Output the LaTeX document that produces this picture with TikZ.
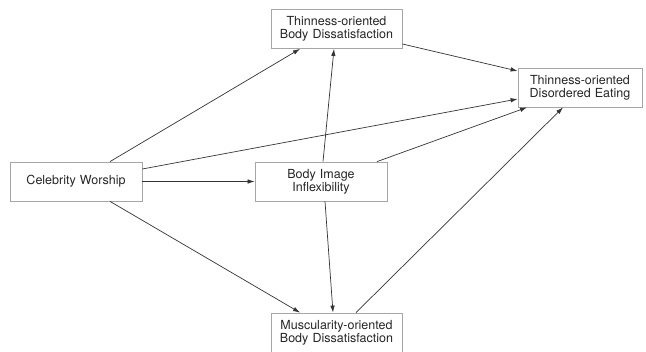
\documentclass[tikz,border=0pt]{standalone}
\usepackage{fontspec}
\setmainfont{TeX Gyre Heros}
\usetikzlibrary{arrows.meta}

\begin{document}
\begin{tikzpicture}[x=1pt, y=-1pt,
	box/.style={draw=black!35, line width=0.8pt, fill=white, inner sep=0pt, align=center,
		text=black!85, text width=#1, minimum height=39pt, font=\fontsize{12.5}{13}\selectfont},
	box/.default=131pt,
	arr/.style={draw=black!80, line width=0.7pt, -{Latex[length=7pt,width=4.5pt]}}]
				\useasboundingbox (0,0) rectangle (646,352);
				\node[box=132pt] (CW) at (76,181.5) {Celebrity Worship};
				\node[box] (TBD) at (336.5,29) {Thinness-oriented\\Body Dissatisfaction};
				\node[box=124pt] (TDE) at (580,87.5) {Thinness-oriented\\Disordered Eating};
				\node[box=132pt] (BII) at (321,181.5) {Body Image\\Inflexibility};
				\node[box] (MBD) at (336.5,332.5) {Muscularity-oriented\\Body Dissatisfaction};
				
				\draw[arr] ([xshift=34pt]CW.north) -- ([xshift=-36.5pt]TBD.south);
				\draw[arr] ([yshift=12.5pt]CW.east) -- ([yshift=-11.5pt]TDE.west);
				\draw[arr] (CW.east) -- (BII.west);
				\draw[arr] ([xshift=34pt]CW.south) -- ([xshift=-36.5pt]MBD.north);
				\draw[arr] ([xshift=2pt]BII.north) -- ([xshift=-2.5pt]TBD.south);
				\draw[arr] ([xshift=4pt]BII.south) -- ([xshift=-3.5pt]MBD.north);
				\draw[arr] ([xshift=56pt]BII.north) -- ([xshift=-53pt]TDE.south);
				\draw[arr] ([yshift=-15pt]TBD.east) -- ([yshift=16.5pt]TDE.west);
				\draw[arr] ([xshift=19.5pt]MBD.north) -- ([xshift=-17pt]TDE.south);
			\end{tikzpicture}
\end{document}
